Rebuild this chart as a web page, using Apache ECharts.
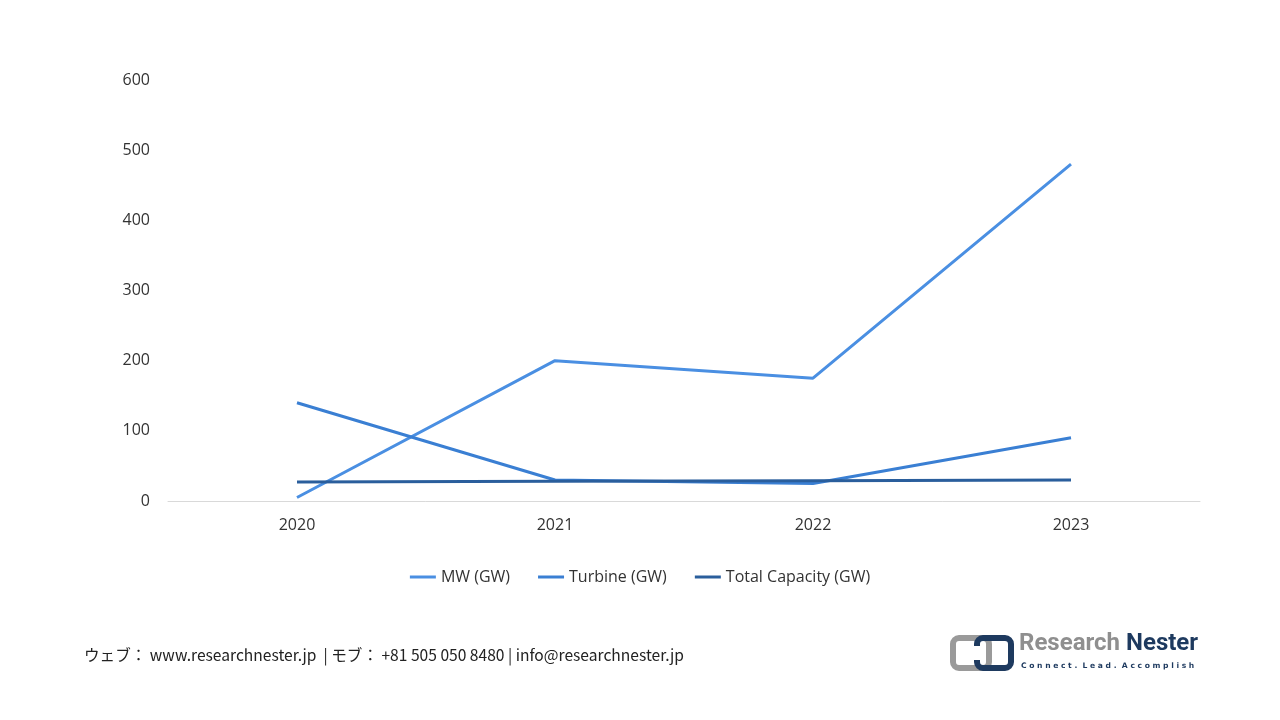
<!DOCTYPE html>
<html>
<head>
<meta charset="utf-8">
<script src="https://cdn.jsdelivr.net/npm/echarts@6/dist/echarts.min.js"></script>
<style>
html,body{margin:0;padding:0;background:#fff;}
#c{width:1280px;height:720px;}
</style>
</head>
<body>
<div id="c"></div>
<script>
const categories = ['2020', '2021', '2022', '2023'];
const mwValues = [5, 200, 175, 480];
const turbineValues = [140, 30, 25, 90];
const totalValues = [27, 28, 29, 30];
const seriesNames = ['MW (GW)', 'Turbine (GW)', 'Total Capacity (GW)'];
const yTicks = [0, 100, 200, 300, 400, 500, 600];

const font = "'Open Sans', 'Noto Sans', sans-serif";
const colors = ['#4A8FE2', '#3A7FD3', '#2A5E9C'];

const chart = echarts.init(document.getElementById('c'));
chart.setOption({
  animation: false,
  backgroundColor: '#ffffff',
  grid: { left: 168, right: 80, top: 80, bottom: 219 },
  legend: {
    data: seriesNames,
    bottom: 130,
    left: 'center',
    itemWidth: 26,
    itemHeight: 3,
    itemGap: 28,
    icon: 'rect',
    textStyle: { fontFamily: font, fontSize: 16, color: '#333' }
  },
  xAxis: {
    type: 'category',
    data: categories,
    boundaryGap: true,
    axisLine: { show: true, lineStyle: { color: '#d9d9d9', width: 1 } },
    axisTick: { show: false },
    axisLabel: { fontFamily: font, fontSize: 16, color: '#333', margin: 16 }
  },
  yAxis: {
    type: 'value',
    min: yTicks[0],
    max: yTicks[yTicks.length - 1],
    interval: 100,
    axisLine: { show: false },
    axisTick: { show: false },
    splitLine: { show: false },
    axisLabel: { fontFamily: font, fontSize: 16, color: '#333', margin: 18 }
  },
  series: [
    { name: seriesNames[0], type: 'line', data: mwValues, symbol: 'none', lineStyle: { width: 3, color: colors[0] }, itemStyle: { color: colors[0] } },
    { name: seriesNames[1], type: 'line', data: turbineValues, symbol: 'none', lineStyle: { width: 3, color: colors[1] }, itemStyle: { color: colors[1] } },
    { name: seriesNames[2], type: 'line', data: totalValues, symbol: 'none', lineStyle: { width: 3, color: colors[2] }, itemStyle: { color: colors[2] } }
  ],
  graphic: [
    {
      type: 'text', left: 84, top: 647,
      style: { text: 'ウェブ： www.researchnester.jp  | モブ： +81 505 050 8480 | info@researchnester.jp', font: "15.6px 'Noto Sans CJK JP', 'Open Sans', sans-serif", fill: '#222' }
    },
    { type: 'rect', shape: { x: 953, y: 638, width: 36, height: 30, r: 6 }, style: { fill: 'none', stroke: '#9a9a9a', lineWidth: 6 } },
    { type: 'rect', shape: { x: 977, y: 638, width: 34, height: 30, r: 6 }, style: { fill: 'none', stroke: '#1e3a5f', lineWidth: 6 } },
    { type: 'rect', shape: { x: 973, y: 646, width: 8, height: 14 }, style: { fill: '#ffffff' } },
    {
      type: 'text', left: 1019, top: 632,
      style: { text: 'Research', font: "bold 24px 'Liberation Sans Narrow', 'Roboto', sans-serif", fill: '#8f8f8f' }
    },
    {
      type: 'text', left: 1126, top: 632,
      style: { text: 'Nester', font: "bold 24px 'Liberation Sans Narrow', 'Roboto', sans-serif", fill: '#1e3a5f' }
    },
    {
      type: 'text', left: 1021, top: 662,
      style: { text: 'C o n n e c t .  L e a d .  A c c o m p l i s h', font: "bold 7.6px 'DejaVu Sans', sans-serif", fill: '#1e3a5f' }
    }
  ]
});
</script>
</body>
</html>
